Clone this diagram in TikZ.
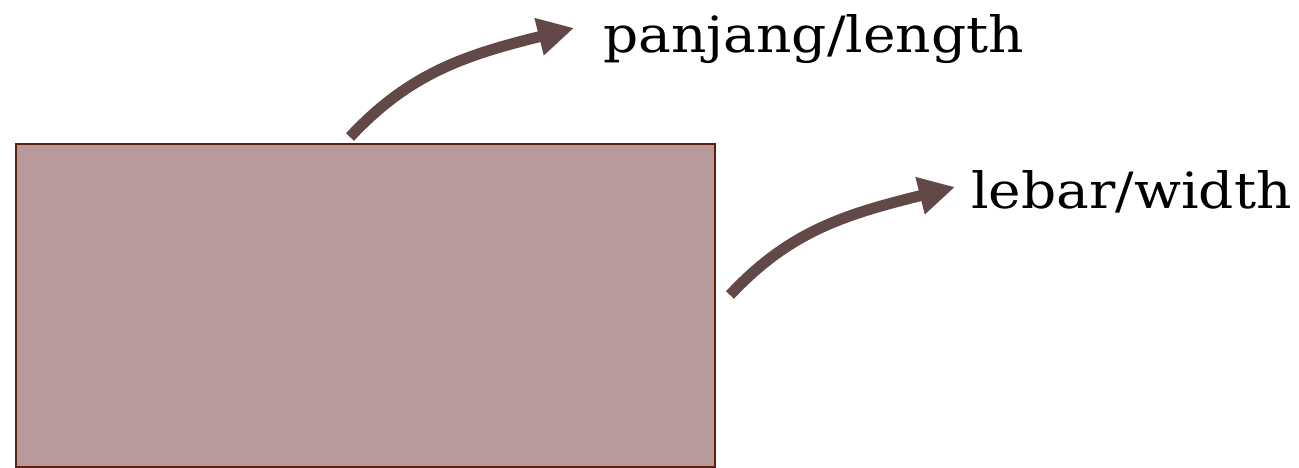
\documentclass[tikz,border=0pt]{standalone}
\usepackage{fontspec}
\setmainfont{DejaVu Serif}
\newfontfamily\lblfont[FakeStretch=1.1]{DejaVu Serif}
\usetikzlibrary{arrows.meta}
\definecolor{boxfill}{HTML}{B89A9B}
\definecolor{boxline}{HTML}{5E1F0E}
\definecolor{arrowcol}{HTML}{634848}
\tikzset{
  lbl/.style={anchor=base west, inner sep=0pt, font=\lblfont\fontsize{50}{60}\selectfont, text=black},
  bendarrow/.style={draw=arrowcol, line width=11pt, -{Triangle[length=36pt,width=36pt]},
    out=47, in=194, out looseness=0.9, in looseness=1.15},
}
\begin{document}
\begin{tikzpicture}[x=1pt,y=1pt]
\useasboundingbox (0,0) rectangle (1299,-467);
\node[draw=boxline, fill=boxfill, line width=2pt, inner sep=0pt, minimum width=699pt, minimum height=323pt, anchor=north west] (rect) at (15,-143) {};
\node[lbl] (len) at (603,-52) {panjang/length};
\node[lbl] (wid) at (971,-208) {lebar/width};
\coordinate (s1) at (350,-137);
\coordinate (t1) at (574,-28);
\coordinate (s2) at (730,-295);
\coordinate (t2) at (955,-187);
\draw[bendarrow] (s1) to (t1);
\draw[bendarrow] (s2) to (t2);
\end{tikzpicture}
\end{document}
